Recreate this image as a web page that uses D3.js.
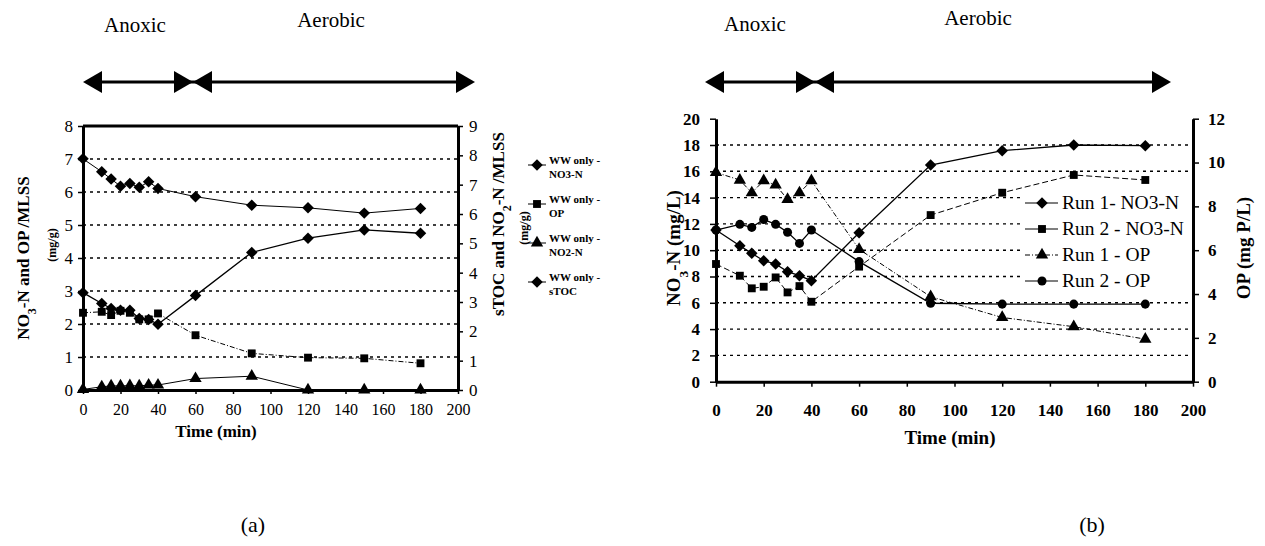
<!DOCTYPE html>
<html>
<head>
<meta charset="utf-8">
<script src="https://cdn.jsdelivr.net/npm/d3@7"></script>
<style>
body { margin: 0; background: #fff; }
text { font-family: "Liberation Serif", "Times New Roman", serif; fill: #000; }
</style>
</head>
<body>
<div id="chart"></div>
<script>
// ---- data, panel (a) ----
let timesA = [0, 10, 15, 20, 25, 30, 35, 40, 60, 90, 120, 150, 180]
let no3A = [2.95, 2.62, 2.47, 2.42, 2.42, 2.17, 2.14, 1.99, 2.86, 4.17, 4.6, 4.85, 4.75]   // left axis
let opA = [2.34, 2.37, 2.27, 2.4, 2.34, 2.14, 2.14, 2.32, 1.66, 1.11, 0.98, 0.96, 0.81]    // left axis
let no2A = [0.02, 0.11, 0.14, 0.14, 0.15, 0.14, 0.17, 0.17, 0.39, 0.47, 0, 0, 0]            // right axis
let stocA = [7.88, 7.44, 7.19, 6.95, 7.04, 6.91, 7.1, 6.87, 6.59, 6.3, 6.21, 6.03, 6.19]   // right axis
let legendA = ['NO3-N', 'OP', 'NO2-N', 'sTOC']

// ---- data, panel (b) ----
let timesB = [0, 10, 15, 20, 25, 30, 35, 40, 60, 90, 120, 150, 180]
let run1NO3 = [11.53, 10.34, 9.76, 9.2, 8.95, 8.37, 8.06, 7.68, 11.33, 16.48, 17.57, 18.0, 17.95] // left
let run2NO3 = [8.95, 8.06, 7.1, 7.22, 7.93, 6.79, 7.27, 6.08, 8.75, 12.67, 14.37, 15.72, 15.34]   // left
let run1OP = [9.55, 9.2, 8.62, 9.17, 8.98, 8.32, 8.62, 9.17, 6.04, 3.88, 2.93, 2.51, 1.94]        // right
let run2OP = [6.92, 7.18, 7.04, 7.4, 7.18, 6.82, 6.31, 6.92, 5.48, 3.58, 3.54, 3.54, 3.54]        // right
let legendB = ['Run 1- NO3-N', 'Run 2 - NO3-N', 'Run 1 - OP', 'Run 2 - OP']

let xTicks = d3.range(0, 201, 20)

let svg = d3.select('#chart').append('svg')
    .attr('width', 1265)
    .attr('height', 546)

// scales
let xA = d3.scaleLinear().domain([0, 200]).range([83, 458])
let yAL = d3.scaleLinear().domain([0, 8]).range([390, 126])
let yAR = d3.scaleLinear().domain([0, 9]).range([390, 126])

let xB = d3.scaleLinear().domain([0, 200]).range([716, 1193])
let yBL = d3.scaleLinear().domain([0, 20]).range([381.7, 118.7])
let yBR = d3.scaleLinear().domain([0, 12]).range([381.7, 118.7])

// square rotated 45deg, like the Excel diamond marker
let rhombus = {
    draw(ctx, size) {
        let r = Math.sqrt(size / 2)
        ctx.moveTo(0, -r)
        ctx.lineTo(r, 0)
        ctx.lineTo(0, r)
        ctx.lineTo(-r, 0)
        ctx.closePath()
    }
}

let sym = {
    diamond: d3.symbol(rhombus, 66),
    square: d3.symbol(d3.symbolSquare, 62),
    triangle: d3.symbol(d3.symbolTriangle, 66),
    circle: d3.symbol(d3.symbolCircle, 64)
}

function styleAxis(ax, size, bold) {
    ax.attr('font-family', null).attr('font-size', null)
    ax.select('.domain').attr('stroke-width', 3)
    ax.selectAll('.tick line').attr('stroke-width', 1.5)
    ax.selectAll('.tick text')
        .style('font-size', size + 'px')
        .style('font-weight', bold ? 'bold' : 'normal')
}

function gridLines(g, x, y, vals) {
    g.append('g').selectAll('line')
        .data(vals)
        .enter().append('line')
        .attr('x1', x.range()[0]).attr('x2', x.range()[1])
        .attr('y1', d => y(d)).attr('y2', d => y(d))
        .attr('stroke', '#000')
        .attr('stroke-width', 1.4)
        .attr('stroke-dasharray', '3,4')
}

function series(g, x, y, times, vals, shape, dash, width) {
    let pts = times.map((t, i) => [t, vals[i]])
    g.append('path')
        .datum(pts)
        .attr('fill', 'none')
        .attr('stroke', '#000')
        .attr('stroke-width', width || 1.2)
        .attr('stroke-dasharray', dash || null)
        .attr('d', d3.line().x(d => x(d[0])).y(d => y(d[1])))
    g.append('g').selectAll('path')
        .data(pts)
        .enter().append('path')
        .attr('d', sym[shape])
        .attr('transform', d => `translate(${x(d[0])},${y(d[1])})`)
        .attr('fill', '#000')
}

// arrow bar with bowtie between the two phases
function phaseArrows(left, mid, right, yy) {
    let g = svg.append('g')
    let h = 11, len = 19
    g.append('line').attr('x1', left + 5).attr('x2', right - 5).attr('y1', yy).attr('y2', yy)
        .attr('stroke', '#000').attr('stroke-width', 3)
    let tri = (tip, dir) => `M${tip},${yy}L${tip - dir * len},${yy - h}L${tip - dir * len},${yy + h}Z`
    g.selectAll('path')
        .data([[left, -1], [mid, 1], [mid, -1], [right, 1]])
        .enter().append('path')
        .attr('d', d => tri(d[0], d[1]))
        .attr('fill', '#000')
}

function label(x, y, txt, size, opts) {
    opts = opts || {}
    let t = svg.append('text')
        .attr('x', x).attr('y', y)
        .attr('text-anchor', opts.anchor || 'middle')
        .style('font-size', size + 'px')
        .style('font-weight', opts.bold ? 'bold' : 'normal')
    if (txt) t.text(txt)
    if (opts.rotate) t.attr('transform', `rotate(${opts.rotate},${x},${y})`)
    return t
}

// put "NO3-N" style text with a subscript digit
function subText(t, parts) {
    parts.forEach(p => {
        let s = t.append('tspan').text(p[0])
        if (p[1]) s.attr('baseline-shift', 'sub').style('font-size', '70%')
    })
}

// ================= panel (a) =================
let gA = svg.append('g')
gridLines(gA, xA, yAL, d3.range(1, 8))

// top border
gA.append('line').attr('x1', xA(0)).attr('x2', xA(200)).attr('y1', yAL(8)).attr('y2', yAL(8))
    .attr('stroke', '#000').attr('stroke-width', 3)

let axAL = gA.append('g').attr('transform', `translate(${xA(0)},0)`)
    .call(d3.axisLeft(yAL).tickValues(d3.range(0, 9)).tickFormat(d3.format('d')).tickSize(5).tickPadding(5).tickSizeOuter(0))
styleAxis(axAL, 17, false)
let axAR = gA.append('g').attr('transform', `translate(${xA(200)},0)`)
    .call(d3.axisRight(yAR).tickValues(d3.range(0, 10)).tickFormat(d3.format('d')).tickSize(5).tickPadding(6).tickSizeOuter(0))
styleAxis(axAR, 17, false)
let axAX = gA.append('g').attr('transform', `translate(0,${yAL(0)})`)
    .call(d3.axisBottom(xA).tickValues(xTicks).tickSize(4).tickPadding(10).tickSizeOuter(0))
styleAxis(axAX, 16, false)

series(gA, xA, yAR, timesA, stocA, 'diamond', null, 1)
series(gA, xA, yAL, timesA, opA, 'square', '5,2,1,2', 1)
series(gA, xA, yAR, timesA, no2A, 'triangle', null, 1)
series(gA, xA, yAL, timesA, no3A, 'diamond', null, 1.3)

// legend (a)
let legA = svg.append('g').attr('transform', 'translate(528,161)')
let shapesA = ['diamond', 'square', 'triangle', 'diamond']
legendA.forEach((name, i) => {
    let yy = i * 39
    legA.append('line').attr('x1', 0).attr('x2', 18).attr('y1', yy + 4).attr('y2', yy + 4)
        .attr('stroke', '#000').attr('stroke-width', 1)
    legA.append('path').attr('d', sym[shapesA[i]]).attr('transform', `translate(9,${yy + 4})`).attr('fill', '#000')
    legA.append('text').attr('x', 21).attr('y', yy + 3).style('font-size', '11px').style('font-weight', 'bold').text('WW only -')
    legA.append('text').attr('x', 21).attr('y', yy + 17).style('font-size', '11px').style('font-weight', 'bold').text(name)
})

// titles (a)
subText(label(29, 258, '', 17, { bold: true, rotate: -90 }), [['NO'], ['3', true], ['-N and OP /MLSS']])
label(56, 245, '(mg/g)', 12, { bold: true, rotate: -90 })
subText(label(504, 224, '', 17, { bold: true, rotate: -90 }), [['sTOC and NO'], ['2', true], ['-N /MLSS']])
label(528, 228, '(mg/g)', 12, { bold: true, rotate: -90 })
label(216, 437, 'Time (min)', 17, { bold: true })

phaseArrows(83, 193, 475, 82)
label(135, 32, 'Anoxic', 21)
label(331, 27, 'Aerobic', 21)
label(253, 532, '(a)', 22)

// ================= panel (b) =================
let gB = svg.append('g')
gridLines(gB, xB, yBL, d3.range(2, 19, 2))

let axBL = gB.append('g').attr('transform', `translate(${xB(0)},0)`)
    .call(d3.axisLeft(yBL).tickValues(d3.range(0, 21, 2)).tickSize(6).tickPadding(10).tickSizeOuter(0))
styleAxis(axBL, 17, true)
let axBR = gB.append('g').attr('transform', `translate(${xB(200)},0)`)
    .call(d3.axisRight(yBR).tickValues(d3.range(0, 13, 2)).tickSize(6).tickPadding(9).tickSizeOuter(0))
styleAxis(axBR, 17, true)
let axBX = gB.append('g').attr('transform', `translate(0,${yBL(0)})`)
    .call(d3.axisBottom(xB).tickValues(xTicks).tickSize(5).tickPadding(17).tickSizeOuter(0))
styleAxis(axBX, 17, true)

series(gB, xB, yBR, timesB, run1OP, 'triangle', '5,2,1,2', 1)
series(gB, xB, yBL, timesB, run2NO3, 'square', '6,3', 1)
series(gB, xB, yBR, timesB, run2OP, 'circle', null, 1.3)
series(gB, xB, yBL, timesB, run1NO3, 'diamond', null, 1.3)

// legend (b), white box over the grid
let legB = svg.append('g').attr('transform', 'translate(1022,190)')
legB.append('rect').attr('x', 0).attr('y', 0).attr('width', 166).attr('height', 104).attr('fill', '#fff')
let shapesB = ['diamond', 'square', 'triangle', 'circle']
let dashB = [null, null, '5,2,1,2', null]
legendB.forEach((name, i) => {
    let yy = 13 + i * 26
    legB.append('line').attr('x1', 3).attr('x2', 36).attr('y1', yy).attr('y2', yy)
        .attr('stroke', '#000').attr('stroke-width', 1.2).attr('stroke-dasharray', dashB[i])
    legB.append('path').attr('d', sym[shapesB[i]]).attr('transform', `translate(20,${yy})`).attr('fill', '#000')
    legB.append('text').attr('x', 40).attr('y', yy + 6).style('font-size', '19.5px').text(name)
})

subText(label(680, 248, '', 19, { bold: true, rotate: -90 }), [['NO'], ['3', true], ['-N (mg/L)']])
label(1250, 248, 'OP (mg P/L)', 19, { bold: true, rotate: -90 })
label(950, 444, 'Time (min)', 19, { bold: true })

phaseArrows(705, 815, 1171, 82)
label(755, 31, 'Anoxic', 21)
label(978, 25, 'Aerobic', 21)
label(1092, 532, '(b)', 22)
</script>
</body>
</html>
